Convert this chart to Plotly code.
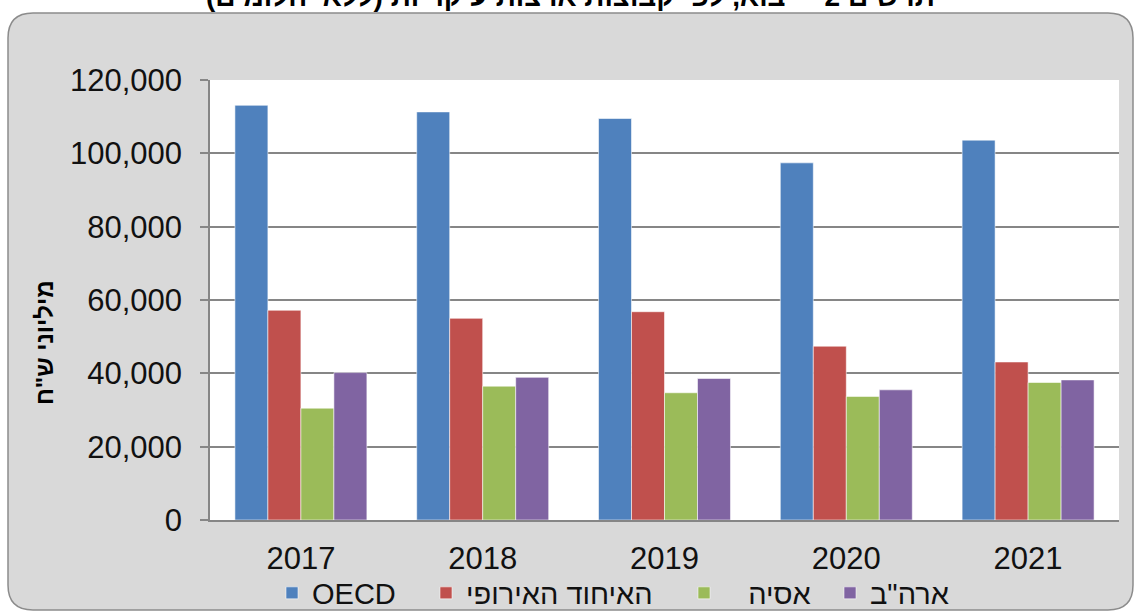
import plotly.graph_objects as go

years = ["2017", "2018", "2019", "2020", "2021"]
series_names = ["OECD", "האיחוד האירופי", "אסיה", "ארה\"ב"]
oecd = [113100, 111300, 109500, 97400, 103600]
eu = [57200, 55000, 56800, 47400, 43100]
asia = [30500, 36500, 34700, 33700, 37500]
usa = [40200, 38900, 38600, 35500, 38200]
colors = ["#4F81BD", "#C0504D", "#9BBB59", "#8064A2"]
title_text = "תרשים 2 – יבוא, לפי קבוצות ארצות עיקריות (ללא יהלומים)"
y_title = "מיליוני ש\"ח"

W, H = 1134, 612
L, R, T, B = 210, 15, 80, 92
PW, PH = W - L - R, H - T - B


def px_x(x):
    return (x - L) / PW


def px_y(y):
    return (H - B - y) / PH


font_family = "Arial, Liberation Sans, sans-serif"
fig = go.Figure()
legend_ids = ["legend", "legend2", "legend3", "legend4"]
name_pad = ["", "", "\u00a0\u00a0\u00a0", ""]
for name, vals, c, lg, pad in zip(series_names, [oecd, eu, asia, usa], colors, legend_ids, name_pad):
    fig.add_trace(go.Bar(
        x=years, y=vals, name=pad + name, legend=lg,
        marker=dict(color=c, line=dict(color="rgba(255,255,255,0.55)", width=1)),
    ))

# rounded gray chart-area background
x0, x1 = px_x(8), px_x(1133)
y0, y1 = px_y(610), px_y(13)
rx, ry = 25 / PW, 25 / PH
path = (f"M {x0+rx},{y1} L {x1-rx},{y1} Q {x1},{y1} {x1},{y1-ry} "
        f"L {x1},{y0+ry} Q {x1},{y0} {x1-rx},{y0} L {x0+rx},{y0} "
        f"Q {x0},{y0} {x0},{y0+ry} L {x0},{y1-ry} Q {x0},{y1} {x0+rx},{y1} Z")
shapes = [
    dict(type="path", path=path, xref="paper", yref="paper", layer="below",
         fillcolor="#D9D9D9", line=dict(color="#8C8C8C", width=1.5)),
    dict(type="rect", xref="paper", yref="paper", x0=0, x1=1, y0=0, y1=1,
         layer="below", fillcolor="white", line=dict(width=0)),
]

legend_left_px = [272, 426, 684, 830]
legends = {}
for lg, lx in zip(legend_ids, legend_left_px):
    legends[lg] = dict(
        x=px_x(lx), xanchor="left", y=px_y(593), yanchor="middle",
        orientation="h", bgcolor="rgba(0,0,0,0)",
        font=dict(family=font_family, size=29, color="#111111"),
        itemclick=False, itemdoubleclick=False,
    )

fig.update_layout(
    width=W, height=H,
    margin=dict(l=L, r=R, t=T, b=B, pad=0, autoexpand=False),
    paper_bgcolor="white", plot_bgcolor="white",
    barmode="group", bargap=0.274, bargroupgap=0,
    showlegend=True,
    shapes=shapes,
    font=dict(family=font_family, size=30, color="#111111"),
    annotations=[
        dict(text=title_text, xref="paper", yref="paper", x=px_x(570), y=px_y(-4),
             xanchor="center", yanchor="middle", showarrow=False,
             font=dict(family=font_family, size=28, color="black", weight="bold")),
        dict(text=y_title, xref="paper", yref="paper", x=px_x(44), y=px_y(343),
             xanchor="center", yanchor="middle", showarrow=False, textangle=-90,
             font=dict(family=font_family, size=24, color="black", weight="bold")),
    ],
    **legends,
)
fig.update_yaxes(
    range=[0, 120000], dtick=20000, tickformat=",d",
    showgrid=True, gridcolor="#868686", gridwidth=1.5,
    showline=True, linecolor="#868686", linewidth=1.5,
    ticks="outside", ticklen=8, tickcolor="#868686", tickwidth=1.5,
    ticklabelstandoff=12, zeroline=False, automargin=False,
    tickfont=dict(family=font_family, size=31, color="#111111"),
)
fig.update_xaxes(
    showline=True, linecolor="#868686", linewidth=2, ticks="",
    ticklabelstandoff=10, automargin=False,
    tickfont=dict(family=font_family, size=31, color="#111111"),
)

fig.write_html(
    "out.html",
    config={"displayModeBar": False},
    post_script="document.body.style.margin='0';document.body.style.overflow='hidden';",
)
